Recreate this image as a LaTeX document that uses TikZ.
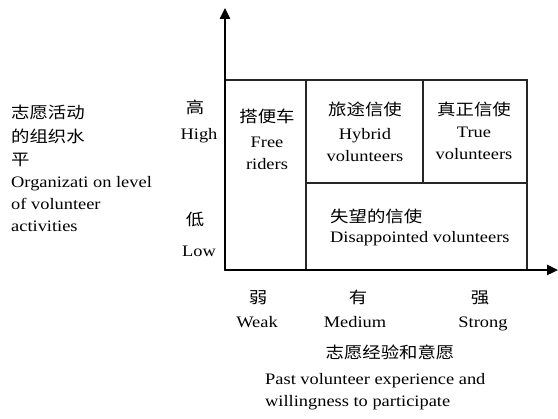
\documentclass[tikz,border=0pt]{standalone}
\usepackage{fontspec}
\setmainfont{Liberation Serif}[FakeStretch=1.15]
\newfontfamily\cjk{Noto Sans CJK SC}[FakeStretch=1.15]
\usetikzlibrary{arrows.meta,positioning}

\begin{document}
\begin{tikzpicture}[
  x=1pt, y=-1pt,
  cn/.style={font=\cjk\fontsize{16}{23.5}\selectfont,inner sep=0pt,anchor=base},
  en/.style={font=\fontsize{16}{22}\selectfont,inner sep=0pt,anchor=base},
  axis/.style={line width=2.4pt,-{Triangle[length=11pt,width=10pt]}},
  cell/.style={draw=black!85,line width=1.4pt}
]
  \useasboundingbox (0,0) rectangle (558,419);
  \coordinate (o) at (225,270);
  \coordinate (ytop) at (225,8);
  \coordinate (xend) at (558,270);

  % cells
  \draw[cell] (225,80) rectangle (306,270);
  \draw[cell] (306,80) rectangle (423,183);
  \draw[cell] (423,80) rectangle (527,183);
  \draw[cell] (306,183) rectangle (527,270);

  \draw[axis] (o) -- (ytop);
  \draw[axis] (o) -- (xend);

  % (base of a node with two or more lines = its last line)
  \node[cn] (free-cn) at (267,123) {搭便车};
  \node[en,align=center] (free) at (267,170) {Free\\riders};
  \node[cn] (hyb-cn) at (365,116) {旅途信使};
  \node[en,align=center] (hyb) at (365,162) {Hybrid\\volunteers};
  \node[cn] (true-cn) at (474,116) {真正信使};
  \node[en,align=center] (true) at (474,160) {True\\volunteers};
  \node[cn,anchor=base west] (dis-cn) at (330,223) {失望的信使};
  \node[en,anchor=base west] (dis) at (330,243) {Disappointed volunteers};

  % y axis
  \node[cn] (high-cn) at (195,114) {高};
  \node[en] (high) at (199,140) {High};
  \node[cn] (low-cn) at (195,226) {低};
  \node[en] (low) at (199,257) {Low};
  \node[cn,anchor=base west,align=left] (org-cn) at (11,166) {志愿活动\\的组织水\\平};
  \node[en,anchor=base west,align=left] (org) at (11,232) {Organizati on level\\of volunteer\\activities};

  % x axis
  \node[cn] (weak-cn) at (258,304) {弱};
  \node[en] (weak) at (257,328) {Weak};
  \node[cn] (med-cn) at (358,304) {有};
  \node[en] (med) at (355,328) {Medium};
  \node[cn] (str-cn) at (480,304) {强};
  \node[en] (str) at (483,328) {Strong};
  \node[cn] (exp-cn) at (390,359) {志愿经验和意愿};
  \node[en,anchor=base west,align=left] (exp) at (265,407) {Past volunteer experience and\\willingness to participate};
\end{tikzpicture}
\end{document}
